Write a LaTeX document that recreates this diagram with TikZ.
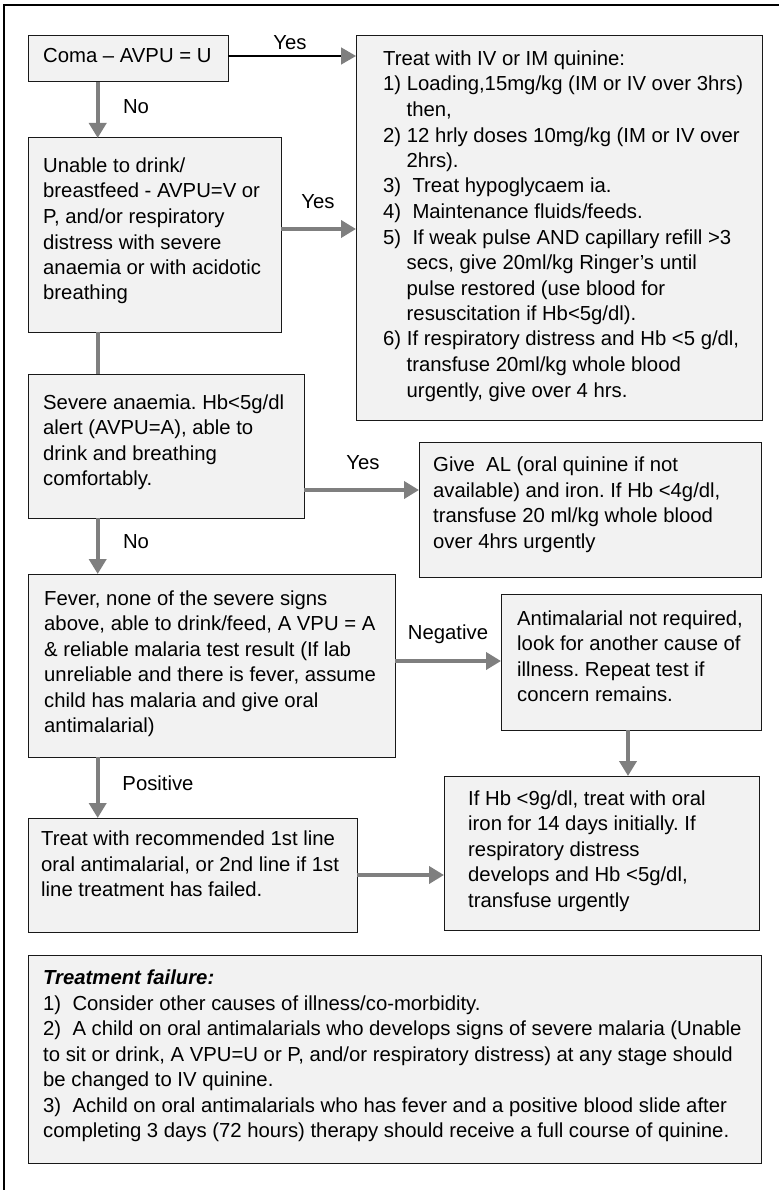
\documentclass[tikz,border=0pt]{standalone}
\usepackage{fontspec}
\setmainfont{Liberation Sans}
\usetikzlibrary{arrows.meta}
\definecolor{boxfill}{HTML}{F2F2F2}
\definecolor{arrgray}{HTML}{7F7F7F}
\newcommand{\ind}{\hspace*{23.5pt}}
\frenchspacing
\begin{document}
\begin{tikzpicture}[x=1pt,y=-1pt,
  box/.style={draw=black!90,line width=1pt,fill=boxfill,inner sep=0pt,outer sep=0pt,anchor=north west},
  txt/.style={inner sep=0pt,anchor=west,align=left,font=\fontsize{20.3}{25.5}\selectfont\frenchspacing},
  lbl/.style={inner sep=0pt,font=\fontsize{20.3}{25.5}\selectfont},
  garrow/.style={draw=arrgray,line width=4pt,-{Triangle[length=15pt,width=17pt]}},
  gline/.style={draw=arrgray,line width=4pt},
  barrow/.style={draw=black,line width=1.5pt,-{Triangle[length=15pt,width=17pt,color=arrgray]}}
]
\useasboundingbox (0,0) rectangle (779,1190);
% outer frame
\coordinate (fa) at (4,1190);
\coordinate (fb) at (4,5);
\coordinate (fc) at (779,5);
\draw[line width=2.7pt,black] (fa) -- (fb) -- (fc);

% boxes
\node[box,minimum width=200pt,minimum height=46pt] (b1) at (28,36) {};
\node[box,minimum width=253pt,minimum height=194pt] (b2) at (28,138) {};
\node[box,minimum width=276pt,minimum height=144pt] (b3) at (28,374) {};
\node[box,minimum width=367pt,minimum height=183pt] (b4) at (28,574) {};
\node[box,minimum width=329pt,minimum height=114pt] (b5) at (28,818) {};
\node[box,minimum width=406pt,minimum height=384pt] (r1) at (356,36) {};
\node[box,minimum width=342pt,minimum height=135pt] (r2) at (419,442) {};
\node[box,minimum width=260pt,minimum height=136pt] (r3) at (501,594) {};
\node[box,minimum width=315pt,minimum height=154pt] (r4) at (444,776) {};
\node[box,minimum width=733pt,minimum height=208pt] (b6) at (28,955) {};

% texts
\node[txt] (t1) at ([xshift=15pt,yshift=3pt]b1.west) {Coma – AVPU = U};
\node[txt] (t2) at ([xshift=15pt,yshift=4pt]b2.west) {Unable to drink/\\breastfeed - AVPU=V or\\P, and/or respiratory\\distress with severe\\anaemia or with acidotic\\breathing};
\node[txt] (t3) at ([xshift=15pt,yshift=4pt]b3.west) {Severe anaemia. Hb<5g/dl\\alert (AVPU=A), able to\\drink and breathing\\comfortably.};
\node[txt] (t4) at ([xshift=16pt,yshift=2pt]b4.west) {Fever, none of the severe signs\\above, able to drink/feed, A VPU = A\\\& reliable malaria test result (If lab\\unreliable and there is fever, assume\\child has malaria and give oral\\antimalarial)};
\node[txt] (t5) at ([xshift=13pt,yshift=11pt]b5.west) {Treat with recommended 1st line\\oral antimalarial, or 2nd line if 1st\\line treatment has failed.};
\node[txt] (tr1) at ([xshift=27pt,yshift=2pt]r1.west) {Treat with IV or IM quinine:\\1) Loading,15mg/kg (IM or IV over 3hrs)\\\ind then,\\2) 12 hrly doses 10mg/kg (IM or IV over\\\ind 2hrs).\\3)~ Treat hypoglycaem ia.\\4)~ Maintenance fluids/feeds.\\5)~ If weak pulse AND capillary refill >3\\\ind secs, give 20ml/kg Ringer’s until\\\ind pulse restored (use blood for\\\ind resuscitation if Hb<5g/dl).\\6) If respiratory distress and Hb <5 g/dl,\\\ind transfuse 20ml/kg whole blood\\\ind urgently, give over 4 hrs.};
\node[txt] (tr2) at ([xshift=14pt,yshift=5pt]r2.west) {Give~ AL (oral quinine if not\\available) and iron. If Hb <4g/dl,\\transfuse 20 ml/kg whole blood\\over 4hrs urgently};
\node[txt] (tr3) at ([xshift=16pt,yshift=6pt]r3.west) {Antimalarial not required,\\look for another cause of\\illness. Repeat test if\\concern remains.};
\node[txt] (tr4) at ([xshift=24pt,yshift=2pt]r4.west) {If Hb <9g/dl, treat with oral\\iron for 14 days initially. If\\respiratory distress\\develops and Hb <5g/dl,\\transfuse urgently};
\node[txt] (t6) at ([xshift=15pt,yshift=3pt]b6.west) {\textbf{\textit{Treatment failure:}}\\1)~ Consider other causes of illness/co-morbidity.\\2)~ A child on oral antimalarials who develops signs of severe malaria (Unable\\to sit or drink, A VPU=U or P, and/or respiratory distress) at any stage should\\be changed to IV quinine.\\3)~ Achild on oral antimalarials who has fever and a positive blood slide after\\completing 3 days (72 hours) therapy should receive a full course of quinine.};

% labels
\node[lbl] (l1) at (290,43) {Yes};
\node[lbl] (l2) at (136,107) {No};
\node[lbl] (l3) at (318,202) {Yes};
\node[lbl] (l4) at (363,463) {Yes};
\node[lbl] (l5) at (136,542) {No};
\node[lbl] (l6) at (448,634) {Negative};
\node[lbl] (l7) at (158,783) {Positive};

% connector coordinates
\coordinate (c1) at ([xshift=69.7pt]b1.south west);
\coordinate (c2) at ([xshift=69.7pt]b2.south west);
\coordinate (c3) at ([xshift=69.7pt]b3.south west);
\coordinate (c4) at ([xshift=69.7pt]b4.south west);
\coordinate (e1) at ([yshift=3pt]b1.east);
\coordinate (e2) at ([yshift=6pt]b2.east);
\coordinate (e3) at ([yshift=-44pt]b3.east);
\coordinate (e4) at ([yshift=4.5pt]b4.east);
\coordinate (e5) at (b5.east);
\coordinate (s3) at ([xshift=-3pt]r3.south);

% connectors
\draw[barrow] (e1) -- (e1 -| r1.west);
\draw[garrow] (c1) -- (c1 |- b2.north);
\draw[garrow] (e2) -- (e2 -| r1.west);
\draw[gline] (c2) -- (c2 |- b3.north);
\draw[garrow] (e3) -- (e3 -| r2.west);
\draw[garrow] (c3) -- (c3 |- b4.north);
\draw[garrow] (e4) -- (e4 -| r3.west);
\draw[garrow] (s3) -- (s3 |- r4.north);
\draw[garrow] (c4) -- (c4 |- b5.north);
\draw[garrow] (e5) -- (e5 -| r4.west);
\end{tikzpicture}
\end{document}
